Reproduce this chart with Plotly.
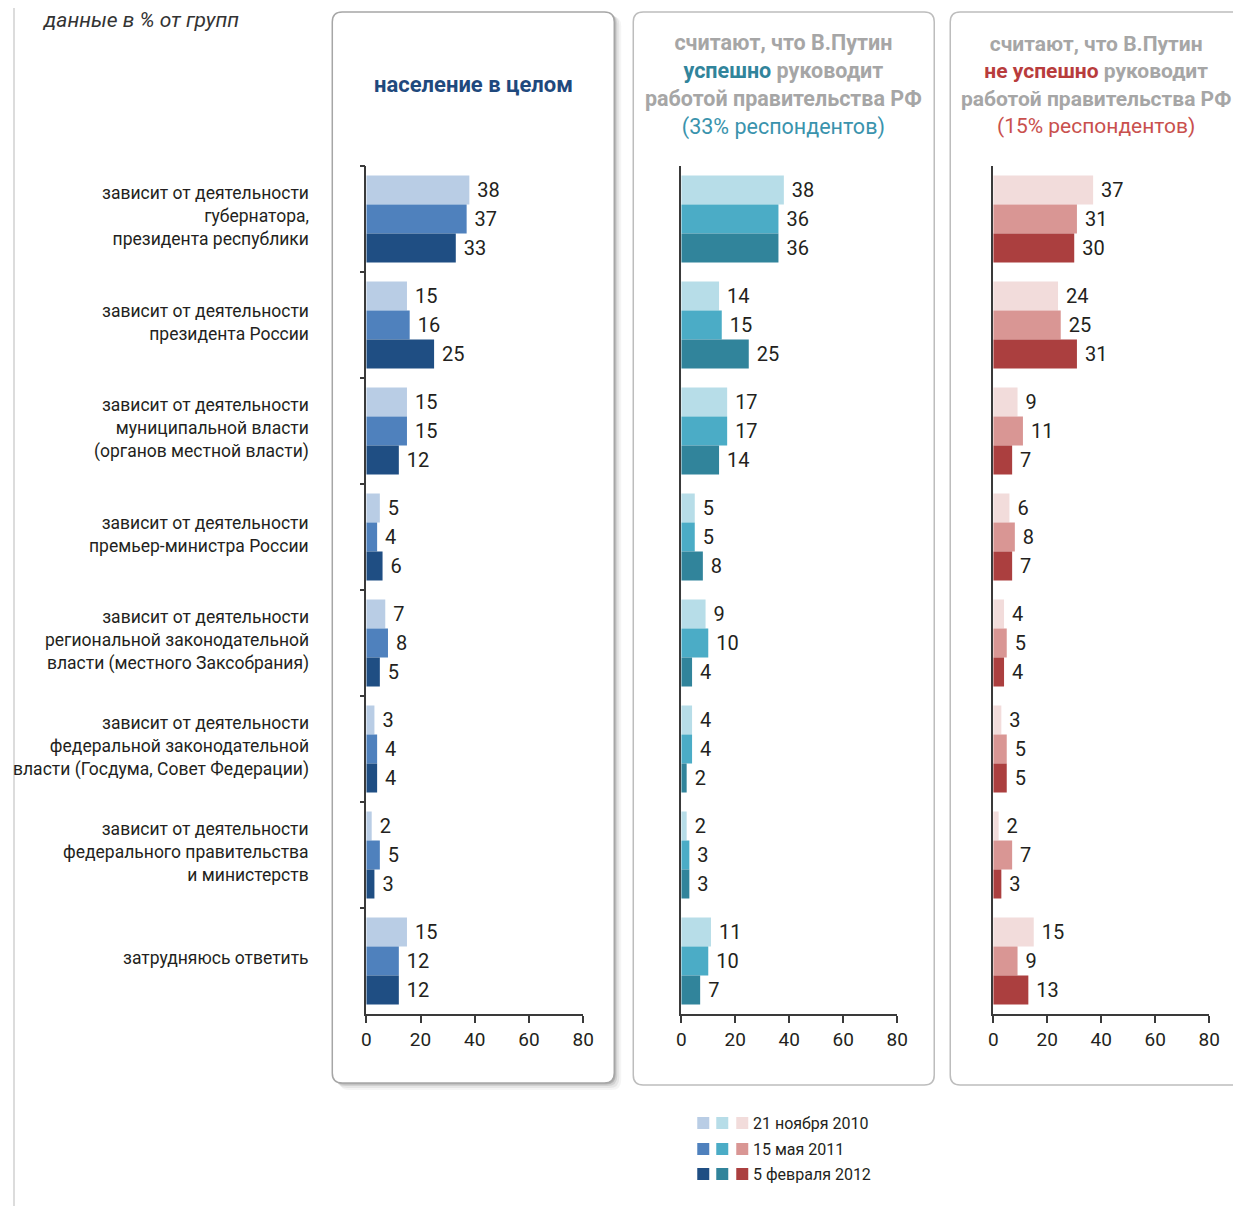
import plotly.graph_objects as go

# page body keeps an 8px margin, so the figure is sized to fit inside the window
W, H = 1225, 1198
OFF = 8
# measured horizontal correction of the photographed page
XS, XB = 0.987, 4.8

# categories (top to bottom)
categories = [
    "зависит от деятельности<br>губернатора,<br>президента республики",
    "зависит от деятельности<br>президента России",
    "зависит от деятельности<br>муниципальной власти<br>(органов местной власти)",
    "зависит от деятельности<br>премьер-министра России",
    "зависит от деятельности<br>региональной законодательной<br>власти (местного Заксобрания)",
    "зависит от деятельности<br>федеральной законодательной<br>власти (Госдума, Совет Федерации)",
    "зависит от деятельности<br>федерального правительства<br>и министерств",
    "затрудняюсь ответить",
]
cat_keys = ["c%d" % i for i in range(len(categories))]

dates = ["21 ноября 2010", "15 мая 2011", "5 февраля 2012"]

# население в целом
all_2010 = [38, 15, 15, 5, 7, 3, 2, 15]
all_2011 = [37, 16, 15, 4, 8, 4, 5, 12]
all_2012 = [33, 25, 12, 6, 5, 4, 3, 12]

# считают, что успешно
yes_2010 = [38, 14, 17, 5, 9, 4, 2, 11]
yes_2011 = [36, 15, 17, 5, 10, 4, 3, 10]
yes_2012 = [36, 25, 14, 8, 4, 2, 3, 7]

# считают, что не успешно
no_2010 = [37, 24, 9, 6, 4, 3, 2, 15]
no_2011 = [31, 25, 11, 8, 5, 5, 7, 9]
no_2012 = [30, 31, 7, 7, 4, 5, 3, 13]

blues = ["#b9cde5", "#4f81bd", "#1f4e83"]
teals = ["#b7dde8", "#4bacc6", "#31849b"]
reds = ["#f2dcdb", "#d99694", "#ab3f3f"]

FONT = "Roboto"
TXT = "#231f20"


def px(x):
    page = (x - XB) / XS
    return (page - OFF) / W


def py(y):
    return 1 - (y - OFF) / H


# x domains of the three panels (pixels of the reference page)
panels = [
    dict(x0=366, x1=583, series=[all_2010, all_2011, all_2012], colors=blues, ticks=True),
    dict(x0=681, x1=897, series=[yes_2010, yes_2011, yes_2012], colors=teals, ticks=False),
    dict(x0=993, x1=1209, series=[no_2010, no_2011, no_2012], colors=reds, ticks=False),
]
plot_top, plot_bottom = 166, 1014

fig = go.Figure()
layout = dict(
    width=W, height=H,
    margin=dict(l=0, r=0, t=0, b=0),
    paper_bgcolor="white", plot_bgcolor="rgba(0,0,0,0)",
    barmode="group", bargap=0.18, bargroupgap=0,
    showlegend=False,
    font=dict(family=FONT, color=TXT),
)

for i, p in enumerate(panels):
    n = "" if i == 0 else str(i + 1)
    for j, vals in enumerate(p["series"]):
        fig.add_trace(go.Bar(
            x=vals, y=cat_keys, orientation="h",
            marker=dict(color=p["colors"][j], line=dict(width=0)),
            text=[" " + str(v) for v in vals], textposition="outside",
            textfont=dict(size=20, color=TXT, family=FONT),
            constraintext="none", cliponaxis=False,
            name=dates[j], offsetgroup=str(j),
            xaxis="x" + n, yaxis="y" + n,
        ))
    layout["xaxis" + n] = dict(
        domain=[px(p["x0"]), px(p["x1"])], anchor="y" + n,
        range=[0, 80], tickvals=[0, 20, 40, 60, 80],
        showline=True, linecolor="#3a3a3a", linewidth=1.5,
        ticks="outside", ticklen=7, tickcolor="#3a3a3a", tickwidth=1.5,
        showgrid=False, zeroline=False,
        tickfont=dict(size=19, color=TXT, family=FONT),
    )
    layout["yaxis" + n] = dict(
        domain=[py(plot_bottom), py(plot_top)], anchor="x" + n,
        type="category", categoryorder="array", categoryarray=cat_keys,
        autorange="reversed",
        showline=True, linecolor="#3a3a3a", linewidth=1.5,
        ticks="outside" if p["ticks"] else "", tickson="boundaries",
        ticklen=5, tickcolor="#3a3a3a", tickwidth=1.5,
        showticklabels=False, showgrid=False, zeroline=False,
    )

fig.update_layout(**layout)


def rounded(x0, y0, x1, y1, r):
    # rounded rectangle path in paper coords from pixel box
    rx, ry = r / W, r / H
    a, b, c, d = px(x0), px(x1), py(y0), py(y1)
    return (f"M{a + rx},{c} L{b - rx},{c} Q{b},{c} {b},{c - ry} "
            f"L{b},{d + ry} Q{b},{d} {b - rx},{d} L{a + rx},{d} "
            f"Q{a},{d} {a},{d + ry} L{a},{c - ry} Q{a},{c} {a + rx},{c} Z")


shapes = []
# left thin rule
shapes.append(dict(type="line", xref="paper", yref="paper",
                   x0=1 / W, x1=1 / W, y0=0, y1=1,
                   line=dict(color="#dcdcdc", width=2), layer="below"))
# shadow of the first panel
for k, a in [(7, 0.04), (5, 0.06), (3, 0.09), (1.5, 0.14)]:
    shapes.append(dict(type="path", xref="paper", yref="paper",
                       path=rounded(332 + k, 12 + k * 0.6, 614 + k, 1083 + k, 10),
                       fillcolor=f"rgba(0,0,0,{a})", line=dict(width=0), layer="below"))
shapes.append(dict(type="path", xref="paper", yref="paper",
                   path=rounded(332, 12, 614, 1083, 10),
                   fillcolor="white", line=dict(color="#a6a6a6", width=1.5), layer="below"))
shapes.append(dict(type="path", xref="paper", yref="paper",
                   path=rounded(633, 12, 934, 1085, 10),
                   fillcolor="white", line=dict(color="#bdbdbd", width=1.5), layer="below"))
shapes.append(dict(type="path", xref="paper", yref="paper",
                   path=rounded(950, 12, 1262, 1085, 10),
                   fillcolor="white", line=dict(color="#bdbdbd", width=1.5), layer="below"))

annotations = []
# category labels
for key, label in zip(cat_keys, categories):
    annotations.append(dict(
        x=px(311), xref="paper", y=key, yref="y", yshift=3,
        text=label, showarrow=False, xanchor="right", yanchor="middle", align="right",
        font=dict(size=17.5, color=TXT, family=FONT),
    ))

annotations.append(dict(
    x=px(40), y=py(20), xref="paper", yref="paper", xanchor="left", yanchor="middle",
    text="<i>данные в % от групп</i>", showarrow=False,
    font=dict(size=21, color="#333333", family=FONT),
))
annotations.append(dict(
    x=px(473), y=py(85), xref="paper", yref="paper", xanchor="center", yanchor="middle",
    text="<b>население в целом</b>", showarrow=False,
    font=dict(size=22, color="#1f497d", family=FONT),
))
annotations.append(dict(
    x=px(783), y=py(85), xref="paper", yref="paper", xanchor="center", yanchor="middle",
    text=("<b>считают, что В.Путин</b><br>"
          "<b><span style='color:#31849b'>успешно</span> руководит</b><br>"
          "<b>работой правительства РФ</b><br>"
          "<span style='color:#3a93ad'>(33% респондентов)</span>"),
    showarrow=False, align="center",
    font=dict(size=21.5, color="#a6a6a6", family=FONT),
))
annotations.append(dict(
    x=px(1096), y=py(85), xref="paper", yref="paper", xanchor="center", yanchor="middle",
    text=("<b>считают, что В.Путин</b><br>"
          "<b><span style='color:#b83c3c'>не успешно</span> руководит</b><br>"
          "<b>работой правительства РФ</b><br>"
          "<span style='color:#c9504d'>(15% респондентов)</span>"),
    showarrow=False, align="center",
    font=dict(size=21, color="#a6a6a6", family=FONT),
))

# legend: three squares per row + date text
legend_rows = [1123, 1149, 1174]
square_x = [697, 716, 736]
for r, yc in enumerate(legend_rows):
    for k, cols in enumerate([blues, teals, reds]):
        shapes.append(dict(type="rect", xref="paper", yref="paper",
                           x0=px(square_x[k]), x1=px(square_x[k] + 12),
                           y0=py(yc + 6), y1=py(yc - 6),
                           fillcolor=cols[r], line=dict(width=0)))
    annotations.append(dict(
        x=px(751), y=py(yc), xref="paper", yref="paper", xanchor="left", yanchor="middle",
        text=dates[r], showarrow=False,
        font=dict(size=16, color=TXT, family=FONT),
    ))

fig.update_layout(shapes=shapes, annotations=annotations)
fig.write_html("out.html")
